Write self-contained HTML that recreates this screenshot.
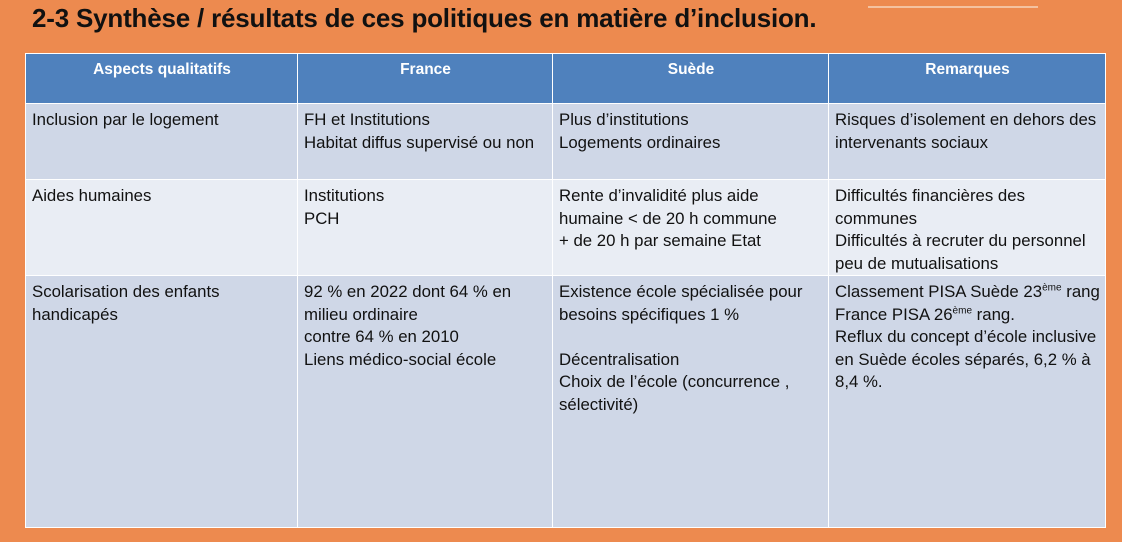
<!DOCTYPE html>
<html><head><meta charset="utf-8"><style>
html,body{margin:0;padding:0;}
body{width:1122px;height:542px;background:#ed8a4f;position:relative;overflow:hidden;font-family:"Liberation Sans",sans-serif;}
.title{position:absolute;left:32px;top:3px;font-size:26px;font-weight:bold;color:#111;letter-spacing:-0.2px;}
.deco{position:absolute;left:868px;top:6px;width:170px;height:2px;background:#f4c2a0;}
table{position:absolute;left:25px;top:53px;width:1080px;border-collapse:collapse;table-layout:fixed;}
td,th{border:1.5px solid #fff;vertical-align:top;padding:0 5px 0 6px;font-size:16.8px;line-height:22.5px;color:#111;text-align:left;white-space:nowrap;overflow:hidden;}
th{background:#4f81bd;color:#fff;font-weight:bold;text-align:center;height:50px;padding-top:5px;box-sizing:border-box;font-size:15.5px;}
.r1 td{background:#cfd7e7;height:76px;padding-top:5px;box-sizing:border-box;}
.r2 td{background:#e9edf4;height:95px;padding-top:5px;box-sizing:border-box;}
.r3 td{background:#cfd7e7;height:252px;padding-top:5px;box-sizing:border-box;}
sup{font-size:10px;line-height:0;}
</style></head><body>
<div class="title">2-3 Synthèse / résultats de ces politiques en matière d’inclusion.</div>
<div class="deco"></div>
<table>
<colgroup><col style="width:272px"><col style="width:255px"><col style="width:276px"><col style="width:277px"></colgroup>
<tr><th>Aspects qualitatifs</th><th>France</th><th>Suède</th><th>Remarques</th></tr>
<tr class="r1"><td>Inclusion par le logement</td><td>FH et Institutions<br>Habitat diffus supervisé ou non</td><td>Plus d’institutions<br>Logements ordinaires</td><td>Risques d’isolement en dehors des<br>intervenants sociaux</td></tr>
<tr class="r2"><td>Aides humaines</td><td>Institutions<br>PCH</td><td>Rente d’invalidité plus aide<br>humaine &lt; de 20 h commune<br>+ de 20 h par semaine Etat</td><td>Difficultés financières des<br>communes<br>Difficultés à recruter du personnel<br>peu de mutualisations</td></tr>
<tr class="r3"><td>Scolarisation des enfants<br>handicapés</td><td>92 % en 2022 dont 64 % en<br>milieu ordinaire<br>contre 64 % en 2010<br>Liens médico-social école</td><td>Existence école spécialisée pour<br>besoins spécifiques 1 %<br><br>Décentralisation<br>Choix de l’école (concurrence ,<br>sélectivité)</td><td>Classement PISA Suède 23<sup>ème</sup> rang<br>France PISA 26<sup>ème</sup> rang.<br>Reflux du concept d’école inclusive<br>en Suède écoles séparés, 6,2 % à<br>8,4 %.</td></tr>
</table>
</body></html>
